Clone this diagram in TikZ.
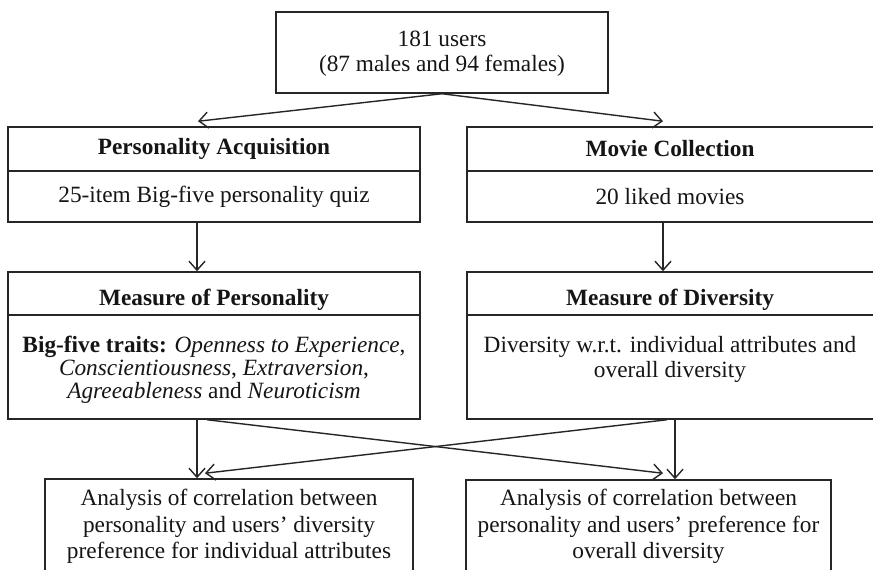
\documentclass[tikz,border=0pt]{standalone}
\usepackage{fontspec}
\setmainfont{Liberation Serif}
\usetikzlibrary{arrows.meta}
\definecolor{ink}{HTML}{151515}
\definecolor{linegray}{HTML}{262626}
\begin{document}
\begin{tikzpicture}[x=1pt, y=-1pt,
  box/.style={draw=linegray, line width=1.5pt, rectangle, inner sep=0pt},
  txt/.style={align=center, inner sep=0pt, text=ink, font=\fontsize{23.3}{26}\selectfont},
  arr/.style={draw=linegray, line width=1.4pt,
    -{Straight Barb[length=9pt, width=16pt, line width=1.4pt]}}]
\useasboundingbox (0,0) rectangle (873,570);
\clip (0,0) rectangle (873,570);
\fill[white] (0,0) rectangle (873,570);

% participants
\node[box, minimum width=332, minimum height=81] (top) at (442,52.5) {};
\node[txt, font=\fontsize{23.3}{25}\selectfont] (toptxt) at ([yshift=-1pt]top.center)
  {181 users\\(87 males and 94 females)};

% left column: personality
\node[box, minimum width=412, minimum height=44] (pah) at (214,149) {};
\node[txt] (pahtxt) at (pah.center) {\textbf{Personality Acquisition}};
\node[box, minimum width=412, minimum height=51] (pab) at (214,196.5) {};
\node[txt] (pabtxt) at (pab.center) {25-item Big-five personality quiz};

\node[box, minimum width=412, minimum height=43] (mph) at (214,293.5) {};
\node[txt] (mphtxt) at ([yshift=-6pt]mph.center) {\textbf{Measure of Personality}};
\node[box, minimum width=412, minimum height=104] (mpb) at (214,367) {};
\node[txt, font=\fontsize{23.3}{23}\selectfont] (mpbtxt) at ([yshift=-3pt]mpb.center)
  {\textbf{Big-five traits:} \textit{Openness to Experience},\\
   \textit{Conscientiousness}, \textit{Extraversion},\\
   \textit{Agreeableness} and \textit{Neuroticism}};

% right column: movies
\node[box, minimum width=408, minimum height=44] (mch) at (671,149) {};
\node[txt] (mchtxt) at ([xshift=-1pt]mch.center) {\textbf{Movie Collection}};
\node[box, minimum width=408, minimum height=51] (mcb) at (671,196.5) {};
\node[txt] (mcbtxt) at ([xshift=-1pt]mcb.center) {20 liked movies};

\node[box, minimum width=408, minimum height=43] (mdh) at (671,293.5) {};
\node[txt] (mdhtxt) at ([xshift=-1pt,yshift=-6pt]mdh.center) {\textbf{Measure of Diversity}};
\node[box, minimum width=408, minimum height=104] (mdb) at (671,367) {};
\node[txt, font=\fontsize{23.3}{25}\selectfont] (mdbtxt) at ([xshift=-1pt,yshift=7.5pt]mdb.center)
  {Diversity w.r.t. individual attributes and\\overall diversity};

% analyses
\node[box, minimum width=368, minimum height=100] (bl) at (229,529) {};
\node[txt, font=\fontsize{23.3}{26.5}\selectfont] (bltxt) at ([yshift=2.5pt]bl.center)
  {Analysis of correlation between\\personality and users' diversity\\preference for individual attributes};
\node[box, minimum width=365, minimum height=99] (br) at (648.5,529.5) {};
\node[txt, font=\fontsize{23.3}{26.5}\selectfont] (brtxt) at ([yshift=3pt]br.center)
  {Analysis of correlation between\\personality and users' preference for\\overall diversity};

% connectors
\draw[arr] (top.south) -- ([xshift=-16pt,yshift=5pt]pah.north);
\draw[arr] (top.south) -- ([xshift=-8pt,yshift=5pt]mch.north);
\draw[arr] ([xshift=-17pt]pab.south) -- ([xshift=-17pt]mph.north);
\draw[arr] ([xshift=-8pt]mcb.south) -- ([xshift=-8pt]mdh.north);
\draw[arr] ([xshift=-17pt]mpb.south) -- ([xshift=-32pt]bl.north);
\draw[arr] ([xshift=4pt]mdb.south) -- ([xshift=26.5pt]br.north);
\draw[arr] ([xshift=-7pt]mpb.south) -- ([xshift=14.5pt,yshift=6pt]br.north);
\draw[arr] ([xshift=-4pt]mdb.south) -- ([xshift=-24pt,yshift=5pt]bl.north);
\end{tikzpicture}
\end{document}
